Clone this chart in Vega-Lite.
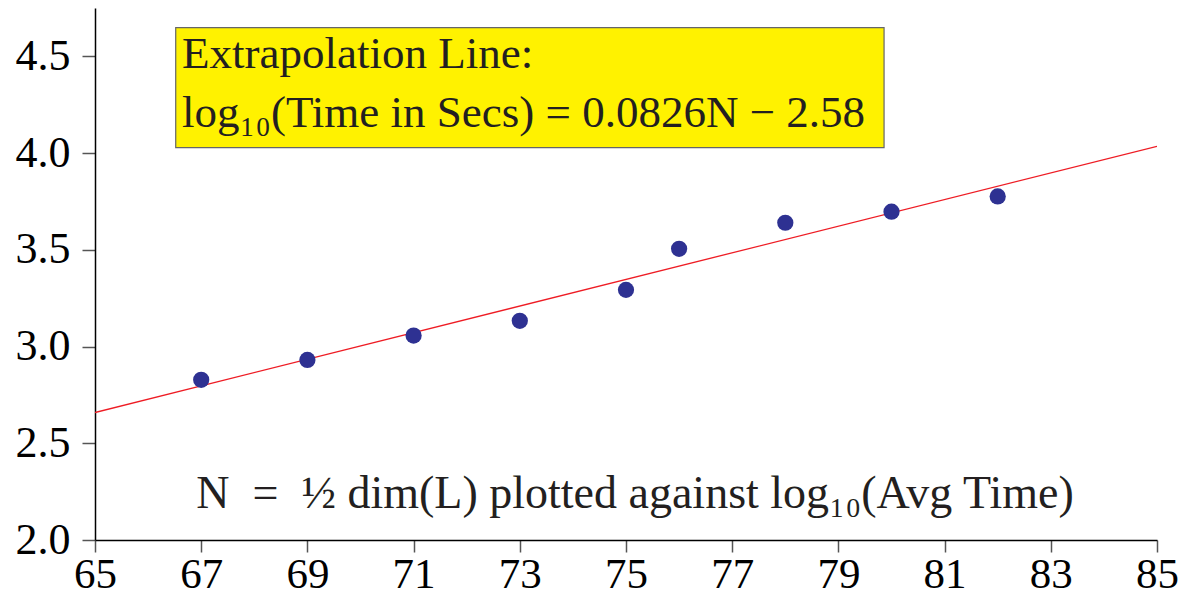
{
  "$schema": "https://vega.github.io/schema/vega-lite/v6.json",
  "width": 1062,
  "height": 532,
  "autosize": "none",
  "padding": {"left": 95, "top": 8, "right": 26, "bottom": 61},
  "background": "white",
  "config": {
    "view": {"stroke": null},
    "font": "Liberation Serif",
    "axis": {"grid": false, "title": null, "labelFont": "Liberation Serif", "labelFontSize": 43, "labelColor": "black", "domainColor": "black", "domainWidth": 1.5, "tickColor": "#555", "tickWidth": 1.5, "tickSize": 13, "labelFlush": false, "labelOverlap": false}
  },
  "datasets": {
    "points": [
      {"N": 67, "t": 2.828},
      {"N": 69, "t": 2.931},
      {"N": 71, "t": 3.057},
      {"N": 73, "t": 3.133},
      {"N": 75, "t": 3.293},
      {"N": 76, "t": 3.505},
      {"N": 78, "t": 3.640},
      {"N": 80, "t": 3.697},
      {"N": 82, "t": 3.776}
    ],
    "fit": [
      {"N": 65, "t": 2.659},
      {"N": 85, "t": 4.035}
    ],
    "box": [
      {"x1": 66.52, "x2": 79.86, "y1": 4.028, "y2": 4.649}
    ],
    "labels": [
      {"x": 66.64, "y": 4.442, "text": "Extrapolation Line:"},
      {"x": 66.64, "y": 4.137, "text": "log₁₀(Time in Secs) = 0.0826N − 2.58"}
    ],
    "caption": [
      {"x": 75.17, "y": 2.166, "text": "N\u2002=\u2002½ dim(L) plotted against log₁₀(Avg Time)"}
    ]
  },
  "layer": [
    {
      "data": {"name": "fit"},
      "mark": {"type": "line", "color": "#ee1c24", "strokeWidth": 1.3, "clip": true},
      "encoding": {
        "x": {"field": "N", "type": "quantitative", "scale": {"domain": [65, 85], "nice": false, "zero": false},
          "axis": {"values": [65, 67, 69, 71, 73, 75, 77, 79, 81, 83, 85], "labelPadding": 1, "tickSize": 12}},
        "y": {"field": "t", "type": "quantitative", "scale": {"domain": [2, 4.75], "nice": false, "zero": false},
          "axis": {"values": [2.0, 2.5, 3.0, 3.5, 4.0, 4.5], "format": ".1f", "labelPadding": 12, "labelFontSize": 44}}
      }
    },
    {
      "data": {"name": "points"},
      "mark": {"type": "point", "filled": true, "shape": "circle", "size": 263, "color": "#2e3192", "opacity": 1},
      "encoding": {
        "x": {"field": "N", "type": "quantitative"},
        "y": {"field": "t", "type": "quantitative"}
      }
    },
    {
      "data": {"name": "box"},
      "mark": {"type": "rect", "fill": "#fff200", "stroke": "#666", "strokeWidth": 1.2},
      "encoding": {
        "x": {"field": "x1", "type": "quantitative"},
        "x2": {"field": "x2"},
        "y": {"field": "y1", "type": "quantitative"},
        "y2": {"field": "y2"}
      }
    },
    {
      "data": {"name": "labels"},
      "mark": {"type": "text", "align": "left", "baseline": "alphabetic", "fontSize": 45, "font": "Liberation Serif", "color": "#231f20"},
      "encoding": {
        "x": {"field": "x", "type": "quantitative"},
        "y": {"field": "y", "type": "quantitative"},
        "text": {"field": "text"}
      }
    },
    {
      "data": {"name": "caption"},
      "mark": {"type": "text", "align": "center", "baseline": "alphabetic", "fontSize": 46, "font": "Liberation Serif", "color": "#231f20"},
      "encoding": {
        "x": {"field": "x", "type": "quantitative"},
        "y": {"field": "y", "type": "quantitative"},
        "text": {"field": "text"}
      }
    }
  ]
}
